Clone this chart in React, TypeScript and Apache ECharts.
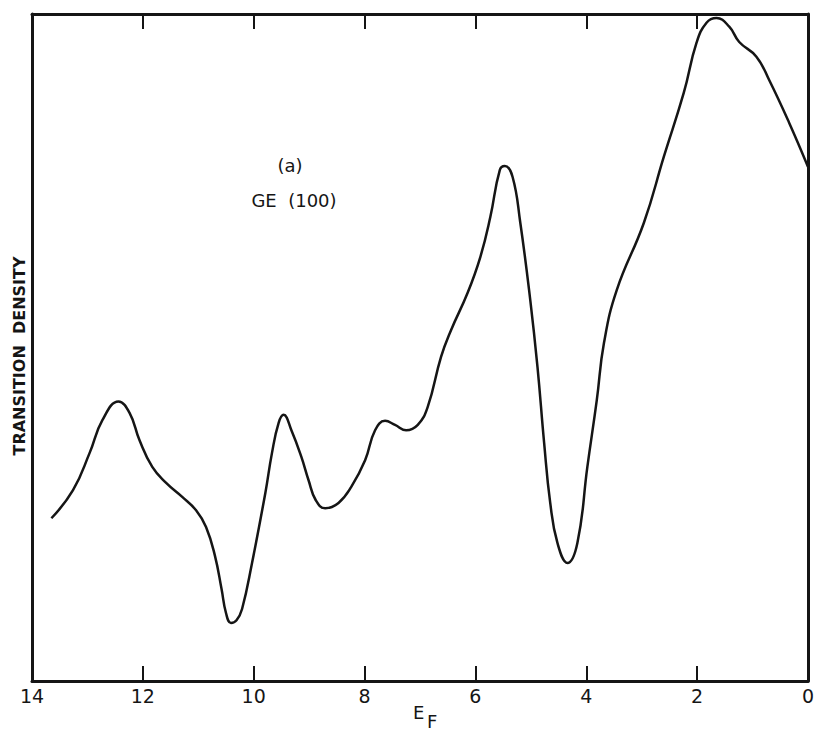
import React, { useEffect, useRef } from "react";
import * as echarts from "echarts";

const energy = [13.65, 13.26, 12.96, 12.73, 12.44, 12.24, 12.06, 11.83, 11.58, 11.29, 11.04, 10.86, 10.7, 10.58, 10.5, 10.41, 10.31, 10.21, 10.03, 9.79, 9.67, 9.55, 9.46, 9.32, 9.14, 9.01, 8.88, 8.71, 8.47, 8.24, 7.99, 7.81, 7.63, 7.45, 7.25, 7.04, 6.86, 6.62, 6.44, 6.14, 5.91, 5.73, 5.56, 5.47, 5.33, 5.19, 5.01, 4.88, 4.76, 4.65, 4.52, 4.34, 4.16, 3.98, 3.81, 3.68, 3.45, 2.96, 2.6, 2.24, 2.01, 1.83, 1.65, 1.42, 1.24, 0.93, 0.7, 0.34, 0.0];
const density = [24.4, 28.6, 34.2, 39.1, 41.9, 40.2, 36.1, 32.1, 29.7, 27.6, 25.6, 23.1, 18.8, 13.8, 10.2, 8.7, 9.1, 10.8, 17.7, 28.2, 34.2, 38.7, 39.9, 37.6, 33.6, 30.1, 27.1, 25.9, 26.7, 29.1, 33.1, 37.6, 39.0, 38.4, 37.6, 38.4, 41.1, 48.6, 52.6, 58.2, 63.6, 69.6, 76.6, 77.2, 75.6, 68.7, 57.1, 47.1, 35.7, 26.7, 20.7, 17.7, 20.7, 32.1, 42.1, 50.7, 58.6, 68.7, 78.6, 88.2, 95.7, 98.7, 99.4, 98.1, 95.8, 93.6, 90.1, 83.7, 77.1];
const xTicks = [14, 12, 10, 8, 6, 4, 2, 0];

const INK = "#151515";
const FONT = "DejaVu Sans";

export default function App() {
  const ref = useRef<HTMLDivElement>(null);
  useEffect(() => {
    const chart = echarts.init(ref.current!, null, { renderer: "svg" });
    const axisCommon = {
      type: "value" as const,
      min: 0,
      max: 14,
      interval: 2,
      inverse: true,
      axisLine: { show: true, onZero: false, lineStyle: { color: INK, width: 3 } },
      axisTick: { show: true, inside: true, length: 15, lineStyle: { color: INK, width: 2 } },
      splitLine: { show: false },
    };
    const yCommon = {
      type: "value" as const,
      min: 0,
      max: 100,
      axisLine: { show: true, onZero: false, lineStyle: { color: INK, width: 3 } },
      axisTick: { show: false },
      axisLabel: { show: false },
      splitLine: { show: false },
    };
    chart.setOption({
      animation: false,
      backgroundColor: "#ffffff",
      grid: { left: 32, right: 5, top: 14, bottom: 51, containLabel: false },
      xAxis: [
        {
          ...axisCommon,
          position: "bottom",
          axisLabel: {
            show: true,
            color: INK,
            fontFamily: FONT,
            fontSize: 19,
            margin: 5,
            formatter: (v: number) => (xTicks.includes(v) ? String(v) : ""),
          },
        },
        {
          ...axisCommon,
          position: "top",
          axisLabel: { show: false },
        },
      ],
      yAxis: [
        { ...yCommon, position: "left" },
        { ...yCommon, position: "right" },
      ],
      series: [
        {
          type: "line",
          xAxisIndex: 0,
          yAxisIndex: 0,
          data: energy.map((e, i) => [e, density[i]]),
          smooth: 0.45,
          showSymbol: false,
          symbol: "none",
          lineStyle: { color: INK, width: 2.5 },
          clip: false,
        },
      ],
      graphic: [
        {
          type: "text",
          x: 19,
          y: 356,
          rotation: Math.PI / 2,
          style: {
            text: "TRANSITION  DENSITY",
            fill: INK,
            font: `bold 16px "${FONT}"`,
            align: "center",
            verticalAlign: "middle",
          },
        },
        {
          type: "text",
          x: 290,
          y: 165,
          style: { text: "(a)", fill: INK, font: `18px "${FONT}"`, align: "center", verticalAlign: "middle" },
        },
        {
          type: "text",
          x: 294,
          y: 200,
          style: { text: "GE  (100)", fill: INK, font: `18px "${FONT}"`, align: "center", verticalAlign: "middle" },
        },
        {
          type: "text",
          x: 413,
          y: 703,
          style: { text: "E", fill: INK, font: `18px "${FONT}"` },
        },
        {
          type: "text",
          x: 427,
          y: 712,
          style: { text: "F", fill: INK, font: `18px "${FONT}"` },
        },
      ],
    });
    return () => chart.dispose();
  }, []);
  return <div ref={ref} style={{ width: 817, height: 732, position: "absolute", left: 0, top: 0 }} />;
}
